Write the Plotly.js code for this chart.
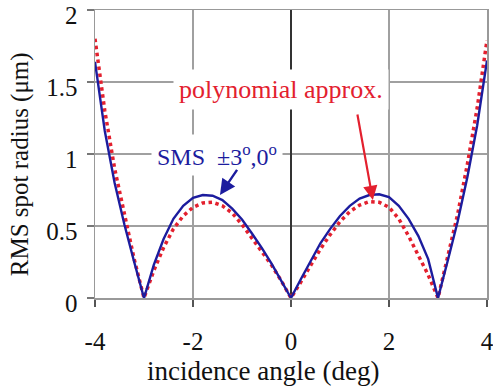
<!DOCTYPE html>
<html><head><meta charset="utf-8">
<script src="https://cdn.plot.ly/plotly-3.0.1.min.js"></script>
<style>html,body{margin:0;padding:0;background:#fff}#chart{width:493px;height:390px}</style>
</head><body><div id="chart"></div>
<script>
const angle = [-4,-3.8,-3.6,-3.4,-3.2,-3,-2.8,-2.6,-2.4,-2.2,-2,-1.8,-1.6,-1.4,-1.2,-1,-0.8,-0.6,-0.4,-0.2,0,
               0.2,0.4,0.6,0.8,1,1.2,1.4,1.6,1.8,2,2.2,2.4,2.6,2.8,3,3.2,3.4,3.6,3.8,4];
const smsRadius = [1.64,1.16,0.80,0.51,0.25,0,0.23,0.41,0.55,0.64,0.695,0.715,0.71,0.68,0.62,0.545,0.45,0.35,0.24,0.12,0,
                   0.13,0.26,0.38,0.48,0.57,0.64,0.69,0.715,0.72,0.70,0.64,0.55,0.43,0.27,0,0.26,0.53,0.84,1.2,1.65];
const polyRadius = [1.80,1.30,0.90,0.57,0.27,0,0.19,0.35,0.48,0.57,0.63,0.66,0.665,0.64,0.59,0.51,0.42,0.33,0.23,0.12,0,
                    0.11,0.23,0.34,0.44,0.53,0.60,0.645,0.67,0.665,0.63,0.55,0.43,0.30,0.16,0,0.28,0.58,0.93,1.32,1.79];
const xTicks = [-4,-2,0,2,4];
const yTicks = [0,0.5,1,1.5,2];
const xTitle = 'incidence angle (deg)';
const yTitle = 'RMS spot radius (\u03bcm)';
const smsLabel = 'SMS  \u00b13<sup>o</sup>,0<sup>o</sup>';
const polyLabel = 'polynomial approx.';

const serif = 'Liberation Serif';
const navy = '#1c1c9e';
const red = '#e3202e';

const traces = [
  {x: angle, y: polyRadius, mode: 'lines', line: {color: red, width: 3.5, dash: 'dot'}, hoverinfo: 'skip'},
  {x: angle, y: smsRadius, mode: 'lines', line: {color: navy, width: 2.4}, hoverinfo: 'skip'}
];

const layout = {
  width: 493, height: 390,
  margin: {l: 95, r: 6, t: 10, b: 92},
  paper_bgcolor: '#fff', plot_bgcolor: '#fff',
  showlegend: false,
  font: {family: serif, size: 25, color: '#111'},
  xaxis: {
    range: [-4, 4], tickvals: xTicks, ticktext: xTicks.map(String),
    showgrid: true, gridcolor: '#a0a0a0', gridwidth: 1.5,
    zeroline: true, zerolinecolor: '#333', zerolinewidth: 1.5,
    showline: true, mirror: true, linecolor: '#999', linewidth: 1.5,
    ticks: 'outside', ticklen: 7, tickcolor: '#555', tickwidth: 1.5,
    ticklabelstandoff: 13, ticklabeloverflow: 'allow',
    tickfont: {family: serif, size: 25, color: '#111'}
  },
  yaxis: {
    range: [0, 2], tickvals: yTicks, ticktext: yTicks.map(String),
    showgrid: true, gridcolor: '#a0a0a0', gridwidth: 1.5,
    zeroline: true, zerolinecolor: '#333', zerolinewidth: 1.5,
    showline: true, mirror: true, linecolor: '#999', linewidth: 1.5,
    ticks: 'outside', ticklen: 7, tickcolor: '#777', tickwidth: 1.5,
    ticklabelstandoff: 4, ticklabelshift: 5, ticklabeloverflow: 'allow',
    tickfont: {family: serif, size: 25, color: '#111'}
  },
  annotations: [
    {text: xTitle, xref: 'paper', yref: 'paper', x: 0.4286, y: -0.255, xanchor: 'center', yanchor: 'middle',
     showarrow: false, font: {family: serif, size: 27, color: '#111'}},
    {text: yTitle, xref: 'paper', yref: 'paper', x: -0.191, y: 0.465, xanchor: 'center', yanchor: 'middle',
     textangle: -90, showarrow: false, font: {family: serif, size: 25, color: '#111'}},
    {text: polyLabel, xref: 'x', yref: 'y', x: -0.2, y: 1.45, xanchor: 'center', yanchor: 'middle',
     showarrow: false, bgcolor: '#fff', borderpad: 5, font: {family: serif, size: 26, color: red}},
    {text: smsLabel, xref: 'x', yref: 'y', x: -1.51, y: 0.99, xanchor: 'center', yanchor: 'middle',
     showarrow: false, bgcolor: '#fff', borderpad: 5, font: {family: serif, size: 24, color: navy}},
    {text: '', xref: 'x', yref: 'y', x: -1.45, y: 0.715, axref: 'x', ayref: 'y', ax: -1.08, ay: 0.90,
     showarrow: true, arrowhead: 2, arrowsize: 1.3, arrowwidth: 2.4, arrowcolor: navy},
    {text: '', xref: 'x', yref: 'y', x: 1.67, y: 0.68, axref: 'x', ayref: 'y', ax: 1.35, ay: 1.285,
     showarrow: true, arrowhead: 2, arrowsize: 1.3, arrowwidth: 2.2, arrowcolor: red}
  ]
};

Plotly.newPlot('chart', traces, layout, {displayModeBar: false, staticPlot: true});
</script>
</body></html>
